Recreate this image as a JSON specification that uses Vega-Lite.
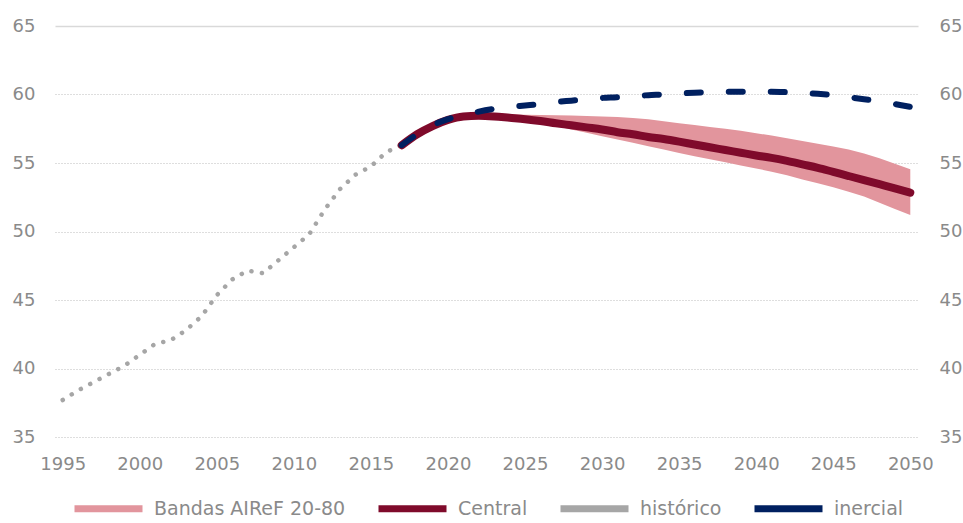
{
  "$schema": "https://vega.github.io/schema/vega-lite/v6.json",
  "width": 863,
  "height": 411,
  "autosize": "none",
  "padding": {"left": 55, "top": 26, "right": 45, "bottom": 86},
  "background": "white",
  "config": {
    "view": {"stroke": null},
    "font": "DejaVu Sans",
    "axis": {"labelFont": "DejaVu Sans", "labelColor": "#8a8a8a", "labelFontSize": 18, "ticks": false, "domain": false}
  },
  "datasets": {
    "band": [
      {"year": 2017, "lo": 56.3, "hi": 56.3},
      {"year": 2018, "lo": 57.1, "hi": 57.1},
      {"year": 2019, "lo": 57.7, "hi": 57.7},
      {"year": 2020, "lo": 58.1, "hi": 58.2},
      {"year": 2021, "lo": 58.35, "hi": 58.5},
      {"year": 2022, "lo": 58.35, "hi": 58.58},
      {"year": 2023, "lo": 58.25, "hi": 58.58},
      {"year": 2024, "lo": 58.1, "hi": 58.56},
      {"year": 2025, "lo": 58.0, "hi": 58.53},
      {"year": 2026, "lo": 57.92, "hi": 58.5},
      {"year": 2027, "lo": 57.7, "hi": 58.48},
      {"year": 2028, "lo": 57.45, "hi": 58.46},
      {"year": 2029, "lo": 57.2, "hi": 58.43},
      {"year": 2030, "lo": 56.95, "hi": 58.4},
      {"year": 2031, "lo": 56.72, "hi": 58.35},
      {"year": 2032, "lo": 56.48, "hi": 58.28},
      {"year": 2033, "lo": 56.23, "hi": 58.2},
      {"year": 2034, "lo": 55.98, "hi": 58.05},
      {"year": 2035, "lo": 55.73, "hi": 57.9},
      {"year": 2036, "lo": 55.5, "hi": 57.77},
      {"year": 2037, "lo": 55.27, "hi": 57.63},
      {"year": 2038, "lo": 55.05, "hi": 57.5},
      {"year": 2039, "lo": 54.82, "hi": 57.35},
      {"year": 2040, "lo": 54.6, "hi": 57.18},
      {"year": 2041, "lo": 54.37, "hi": 57.0},
      {"year": 2042, "lo": 54.1, "hi": 56.8},
      {"year": 2043, "lo": 53.8, "hi": 56.6},
      {"year": 2044, "lo": 53.53, "hi": 56.4},
      {"year": 2045, "lo": 53.23, "hi": 56.2},
      {"year": 2046, "lo": 52.9, "hi": 55.98},
      {"year": 2047, "lo": 52.55, "hi": 55.7},
      {"year": 2048, "lo": 52.1, "hi": 55.35},
      {"year": 2049, "lo": 51.65, "hi": 54.95},
      {"year": 2050, "lo": 51.2, "hi": 54.54}
    ],
    "series": [
      {"serie": "histórico", "year": 1995, "value": 37.7},
      {"serie": "histórico", "year": 1996, "value": 38.4},
      {"serie": "histórico", "year": 1997, "value": 39.0},
      {"serie": "histórico", "year": 1998, "value": 39.6},
      {"serie": "histórico", "year": 1999, "value": 40.2},
      {"serie": "histórico", "year": 2000, "value": 41.0},
      {"serie": "histórico", "year": 2001, "value": 41.8},
      {"serie": "histórico", "year": 2002, "value": 42.05},
      {"serie": "histórico", "year": 2003, "value": 42.8},
      {"serie": "histórico", "year": 2004, "value": 43.8},
      {"serie": "histórico", "year": 2005, "value": 45.35},
      {"serie": "histórico", "year": 2006, "value": 46.5},
      {"serie": "histórico", "year": 2007, "value": 47.15},
      {"serie": "histórico", "year": 2008, "value": 46.95},
      {"serie": "histórico", "year": 2009, "value": 47.9},
      {"serie": "histórico", "year": 2010, "value": 48.85},
      {"serie": "histórico", "year": 2011, "value": 49.8},
      {"serie": "histórico", "year": 2012, "value": 51.6},
      {"serie": "histórico", "year": 2013, "value": 53.1},
      {"serie": "histórico", "year": 2014, "value": 54.15},
      {"serie": "histórico", "year": 2015, "value": 54.75},
      {"serie": "histórico", "year": 2016, "value": 55.8},
      {"serie": "histórico", "year": 2017, "value": 56.3},
      {"serie": "Central", "year": 2017, "value": 56.3},
      {"serie": "Central", "year": 2018, "value": 57.1},
      {"serie": "Central", "year": 2019, "value": 57.7},
      {"serie": "Central", "year": 2020, "value": 58.15},
      {"serie": "Central", "year": 2021, "value": 58.4},
      {"serie": "Central", "year": 2022, "value": 58.45},
      {"serie": "Central", "year": 2023, "value": 58.4},
      {"serie": "Central", "year": 2024, "value": 58.3},
      {"serie": "Central", "year": 2025, "value": 58.2},
      {"serie": "Central", "year": 2026, "value": 58.07},
      {"serie": "Central", "year": 2027, "value": 57.9},
      {"serie": "Central", "year": 2028, "value": 57.75},
      {"serie": "Central", "year": 2029, "value": 57.6},
      {"serie": "Central", "year": 2030, "value": 57.45},
      {"serie": "Central", "year": 2031, "value": 57.25},
      {"serie": "Central", "year": 2032, "value": 57.1},
      {"serie": "Central", "year": 2033, "value": 56.9},
      {"serie": "Central", "year": 2034, "value": 56.75},
      {"serie": "Central", "year": 2035, "value": 56.56},
      {"serie": "Central", "year": 2036, "value": 56.35},
      {"serie": "Central", "year": 2037, "value": 56.15},
      {"serie": "Central", "year": 2038, "value": 55.95},
      {"serie": "Central", "year": 2039, "value": 55.75},
      {"serie": "Central", "year": 2040, "value": 55.55},
      {"serie": "Central", "year": 2041, "value": 55.37},
      {"serie": "Central", "year": 2042, "value": 55.15},
      {"serie": "Central", "year": 2043, "value": 54.9},
      {"serie": "Central", "year": 2044, "value": 54.65},
      {"serie": "Central", "year": 2045, "value": 54.35},
      {"serie": "Central", "year": 2046, "value": 54.05},
      {"serie": "Central", "year": 2047, "value": 53.75},
      {"serie": "Central", "year": 2048, "value": 53.45},
      {"serie": "Central", "year": 2049, "value": 53.15},
      {"serie": "Central", "year": 2050, "value": 52.83},
      {"serie": "inercial", "year": 2017, "value": 56.3},
      {"serie": "inercial", "year": 2018, "value": 57.1},
      {"serie": "inercial", "year": 2019, "value": 57.75},
      {"serie": "inercial", "year": 2020, "value": 58.2},
      {"serie": "inercial", "year": 2021, "value": 58.5},
      {"serie": "inercial", "year": 2022, "value": 58.75},
      {"serie": "inercial", "year": 2023, "value": 58.95},
      {"serie": "inercial", "year": 2024, "value": 59.1},
      {"serie": "inercial", "year": 2025, "value": 59.2},
      {"serie": "inercial", "year": 2026, "value": 59.3},
      {"serie": "inercial", "year": 2027, "value": 59.45},
      {"serie": "inercial", "year": 2028, "value": 59.55},
      {"serie": "inercial", "year": 2029, "value": 59.65},
      {"serie": "inercial", "year": 2030, "value": 59.75},
      {"serie": "inercial", "year": 2031, "value": 59.8},
      {"serie": "inercial", "year": 2032, "value": 59.88},
      {"serie": "inercial", "year": 2033, "value": 59.95},
      {"serie": "inercial", "year": 2034, "value": 60.0},
      {"serie": "inercial", "year": 2035, "value": 60.07},
      {"serie": "inercial", "year": 2036, "value": 60.13},
      {"serie": "inercial", "year": 2037, "value": 60.17},
      {"serie": "inercial", "year": 2038, "value": 60.2},
      {"serie": "inercial", "year": 2039, "value": 60.2},
      {"serie": "inercial", "year": 2040, "value": 60.2},
      {"serie": "inercial", "year": 2041, "value": 60.2},
      {"serie": "inercial", "year": 2042, "value": 60.17},
      {"serie": "inercial", "year": 2043, "value": 60.12},
      {"serie": "inercial", "year": 2044, "value": 60.05},
      {"serie": "inercial", "year": 2045, "value": 59.95},
      {"serie": "inercial", "year": 2046, "value": 59.8},
      {"serie": "inercial", "year": 2047, "value": 59.65},
      {"serie": "inercial", "year": 2048, "value": 59.5},
      {"serie": "inercial", "year": 2049, "value": 59.3},
      {"serie": "inercial", "year": 2050, "value": 59.1}
    ]
  },
  "resolve": {"axis": {"y": "independent"}},
  "layer": [
    {
      "data": {"name": "band"},
      "mark": {"type": "area", "opacity": 1},
      "encoding": {
        "x": {"field": "year", "type": "quantitative",
          "scale": {"domain": [1994.5, 2050.5], "nice": false, "zero": false},
          "axis": {"values": [1995, 2000, 2005, 2010, 2015, 2020, 2025, 2030, 2035, 2040, 2045, 2050], "format": "d", "grid": false, "labelPadding": 18, "title": null, "labelFlush": false}},
        "y": {"field": "lo", "type": "quantitative",
          "scale": {"domain": [35, 65], "nice": false, "zero": false},
          "axis": {"orient": "left", "values": [35, 40, 45, 50, 55, 60, 65], "title": null, "labelPadding": 20,
            "grid": true, "gridColor": {"condition": {"test": "datum.value === 65", "value": "#d9d9d9"}, "value": "#bdbdbd"},
            "gridWidth": {"condition": {"test": "datum.value === 65", "value": 1.5}, "value": 1},
            "gridDash": {"condition": {"test": "datum.value === 65", "value": []}, "value": [1, 2]}}},
        "y2": {"field": "hi"},
        "color": {"datum": "Bandas AIReF 20-80", "type": "nominal",
          "scale": {"domain": ["Bandas AIReF 20-80", "Central", "histórico", "inercial"], "range": ["#e2959d", "#7f0a2b", "#a6a6a6", "#002060"]},
          "legend": {
            "orient": "none", "legendX": 16, "legendY": 445, "direction": "horizontal", "title": null,
            "symbolType": "stroke", "symbolSize": 4624, "symbolStrokeWidth": 7, "symbolOpacity": 1,
            "labelOffset": 8, "columnPadding": 18,
            "labelFont": "DejaVu Sans", "labelFontSize": 19, "labelColor": "#8a8a8a", "labelLimit": 400
          }}
      }
    },
    {
      "data": {"name": "series"},
      "transform": [{"filter": "datum.serie === 'histórico'"}],
      "mark": {"type": "line", "strokeWidth": 4.5, "strokeDash": [0.1, 10.5], "strokeCap": "round", "strokeJoin": "round"},
      "encoding": {
        "x": {"field": "year", "type": "quantitative"},
        "y": {"field": "value", "type": "quantitative", "axis": null},
        "color": {"field": "serie", "type": "nominal", "legend": null}
      }
    },
    {
      "data": {"name": "series"},
      "transform": [{"filter": "datum.serie === 'Central'"}],
      "mark": {"type": "line", "strokeWidth": 8, "strokeCap": "round", "interpolate": "monotone"},
      "encoding": {
        "x": {"field": "year", "type": "quantitative"},
        "y": {"field": "value", "type": "quantitative", "axis": null},
        "color": {"field": "serie", "type": "nominal", "legend": null}
      }
    },
    {
      "data": {"name": "series"},
      "transform": [{"filter": "datum.serie === 'inercial'"}],
      "mark": {"type": "line", "strokeWidth": 6, "strokeDash": [14, 28], "strokeCap": "round", "interpolate": "monotone"},
      "encoding": {
        "x": {"field": "year", "type": "quantitative"},
        "y": {"field": "value", "type": "quantitative",
          "axis": {"orient": "right", "values": [35, 40, 45, 50, 55, 60, 65], "title": null, "labelPadding": 21, "grid": false}},
        "color": {"field": "serie", "type": "nominal", "legend": null}
      }
    }
  ]
}
